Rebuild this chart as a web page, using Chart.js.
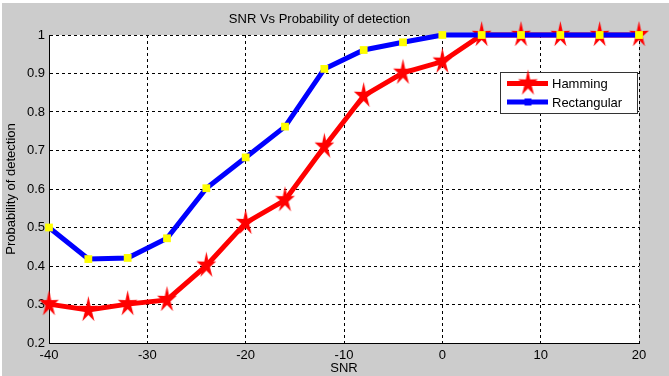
<!DOCTYPE html>
<html>
<head>
<meta charset="utf-8">
<title>SNR Vs Probability of detection</title>
<script src="https://cdn.jsdelivr.net/npm/chart.js@4/dist/chart.umd.min.js"></script>
<style>
  html, body { margin: 0; padding: 0; background: #cccccc; }
  canvas { display: block; }
</style>
</head>
<body>
<canvas id="snrChart" width="669" height="376"></canvas>
<script>
// SNR (dB) och detektionssannolikhet per fönster
const snrValues = [-40, -36, -32, -28, -24, -20, -16, -12, -8, -4, 0, 4, 8, 12, 16, 20];
const hammingValues = [0.301, 0.286, 0.301, 0.312, 0.401, 0.512, 0.571, 0.71, 0.842, 0.902, 0.931, 1, 1, 1, 1, 1];
const rectangularValues = [0.5, 0.418, 0.421, 0.472, 0.602, 0.682, 0.762, 0.912, 0.961, 0.981, 1, 1, 1, 1, 1, 1];
const seriesNames = ["Hamming", "Rectangular"];

const xTicks = [-40, -30, -20, -10, 0, 10, 20];
const yTicks = [0.2, 0.3, 0.4, 0.5, 0.6, 0.7, 0.8, 0.9, 1];

const chartTitle = "SNR Vs Probability of detection";
const xTitle = "SNR";
const yTitle = "Probability of detection";

Chart.defaults.font.family = "'Liberation Sans', Arial, sans-serif";
Chart.defaults.font.size = 13;
Chart.defaults.color = "#000";

/**
 * Ritar en femuddig stjärna på en egen canvas (används som punktstil)
 */
function makeStar(outer, inner, squeeze, color) {
  const c = document.createElement("canvas");
  const w = Math.ceil(outer * 2 * squeeze) + 2;
  const h = Math.ceil(outer * 2) + 2;
  c.width = w;
  c.height = h;
  const ctx = c.getContext("2d");
  ctx.translate(w / 2, h / 2);
  ctx.beginPath();
  for (let i = 0; i < 10; i++) {
    const r = i % 2 === 0 ? outer : inner;
    const a = -Math.PI / 2 + (i * Math.PI) / 5;
    const px = Math.cos(a) * r * squeeze;
    const py = Math.sin(a) * r;
    if (i === 0) ctx.moveTo(px, py);
    else ctx.lineTo(px, py);
  }
  ctx.closePath();
  ctx.fillStyle = color;
  ctx.fill();
  return c;
}

const redStar = makeStar(14, 5, 0.74, "#ff0000");

// grå figurbakgrund, vit plottyta
const backgroundPlugin = {
  id: "background",
  beforeDraw(chart) {
    const { ctx, chartArea } = chart;
    ctx.save();
    ctx.fillStyle = "#cccccc";
    ctx.fillRect(0, 0, chart.width, chart.height);
    ctx.fillStyle = "#ffffff";
    ctx.fillRect(0, 0, chart.width, 3);
    ctx.fillRect(0, 0, 2, chart.height);
    ctx.fillRect(chartArea.left, chartArea.top, chartArea.right - chartArea.left, chartArea.bottom - chartArea.top);
    ctx.restore();
  },
};

// förklaringsruta uppe till höger
const legendBoxPlugin = {
  id: "legendBox",
  afterDraw(chart) {
    const ctx = chart.ctx;
    ctx.save();
    ctx.fillStyle = "#ffffff";
    ctx.fillRect(500, 72, 137, 41);
    ctx.strokeStyle = "#333";
    ctx.lineWidth = 1;
    ctx.strokeRect(500.5, 72.5, 137, 41);

    ctx.lineWidth = 5;
    ctx.strokeStyle = "#ff0000";
    ctx.beginPath();
    ctx.moveTo(507, 83.5);
    ctx.lineTo(548, 83.5);
    ctx.stroke();
    ctx.drawImage(redStar, 528 - redStar.width / 2, 83.5 - redStar.height / 2);

    ctx.strokeStyle = "#0000ff";
    ctx.beginPath();
    ctx.moveTo(507, 102);
    ctx.lineTo(548, 102);
    ctx.stroke();
    ctx.fillStyle = "#0000ff";
    ctx.fillRect(524.5, 98.5, 7, 7);

    ctx.fillStyle = "#000";
    ctx.font = "13px 'Liberation Sans', Arial, sans-serif";
    ctx.textBaseline = "middle";
    ctx.fillText(seriesNames[0], 552, 84.5);
    ctx.fillText(seriesNames[1], 552, 103);
    ctx.restore();
  },
};

function toPoints(values) {
  return snrValues.map((x, i) => ({ x: x, y: values[i] }));
}

function renderChart() {
  const ctx = document.getElementById("snrChart").getContext("2d");
  new Chart(ctx, {
    type: "line",
    data: {
      datasets: [
        {
          label: seriesNames[0],
          data: toPoints(hammingValues),
          borderColor: "#ff0000",
          borderWidth: 5,
          pointStyle: redStar,
          pointRadius: 10,
          order: 2,
          clip: false,
        },
        {
          label: seriesNames[1],
          data: toPoints(rectangularValues),
          borderColor: "#0000ff",
          borderWidth: 5,
          pointStyle: "rect",
          pointRadius: 5.5,
          pointBackgroundColor: "#ffff00",
          pointBorderColor: "#ffff00",
          pointBorderWidth: 0,
          order: 1,
          clip: false,
        },
      ],
    },
    options: {
      responsive: false,
      animation: false,
      devicePixelRatio: 1,
      layout: { padding: { top: 0, right: 30, bottom: 0, left: 0 } },
      elements: { line: { tension: 0 } },
      plugins: {
        legend: { display: false },
        tooltip: { enabled: false },
        title: {
          display: true,
          text: chartTitle,
          color: "#000",
          font: { size: 13, weight: "normal" },
          padding: { top: 12, bottom: 7.4 },
        },
      },
      scales: {
        x: {
          type: "linear",
          min: -40,
          max: 20,
          afterBuildTicks: (scale) => {
            scale.ticks = xTicks.map((v) => ({ value: v }));
          },
          afterFit: (scale) => {
            scale.height = 33;
          },
          ticks: {
            padding: 5,
            maxRotation: 0,
            callback: (v) => String(v),
          },
          grid: { color: "#000", lineWidth: 1, drawTicks: false },
          border: { display: true, color: "#000", width: 1, dash: [3, 3] },
          title: {
            display: true,
            text: xTitle,
            padding: { top: 0, bottom: 0 },
          },
        },
        y: {
          min: 0.2,
          max: 1,
          afterBuildTicks: (scale) => {
            scale.ticks = yTicks.map((v) => ({ value: v }));
          },
          afterFit: (scale) => {
            scale.width = 49;
          },
          ticks: {
            padding: 4,
            callback: (v) => String(Number(v.toFixed(1))),
          },
          grid: { color: "#000", lineWidth: 1, drawTicks: false },
          border: { display: true, color: "#000", width: 1, dash: [3, 3] },
          title: {
            display: true,
            text: yTitle,
            padding: { top: 4, bottom: 0 },
          },
        },
      },
    },
    plugins: [backgroundPlugin, legendBoxPlugin],
  });
}

renderChart();
</script>
</body>
</html>
